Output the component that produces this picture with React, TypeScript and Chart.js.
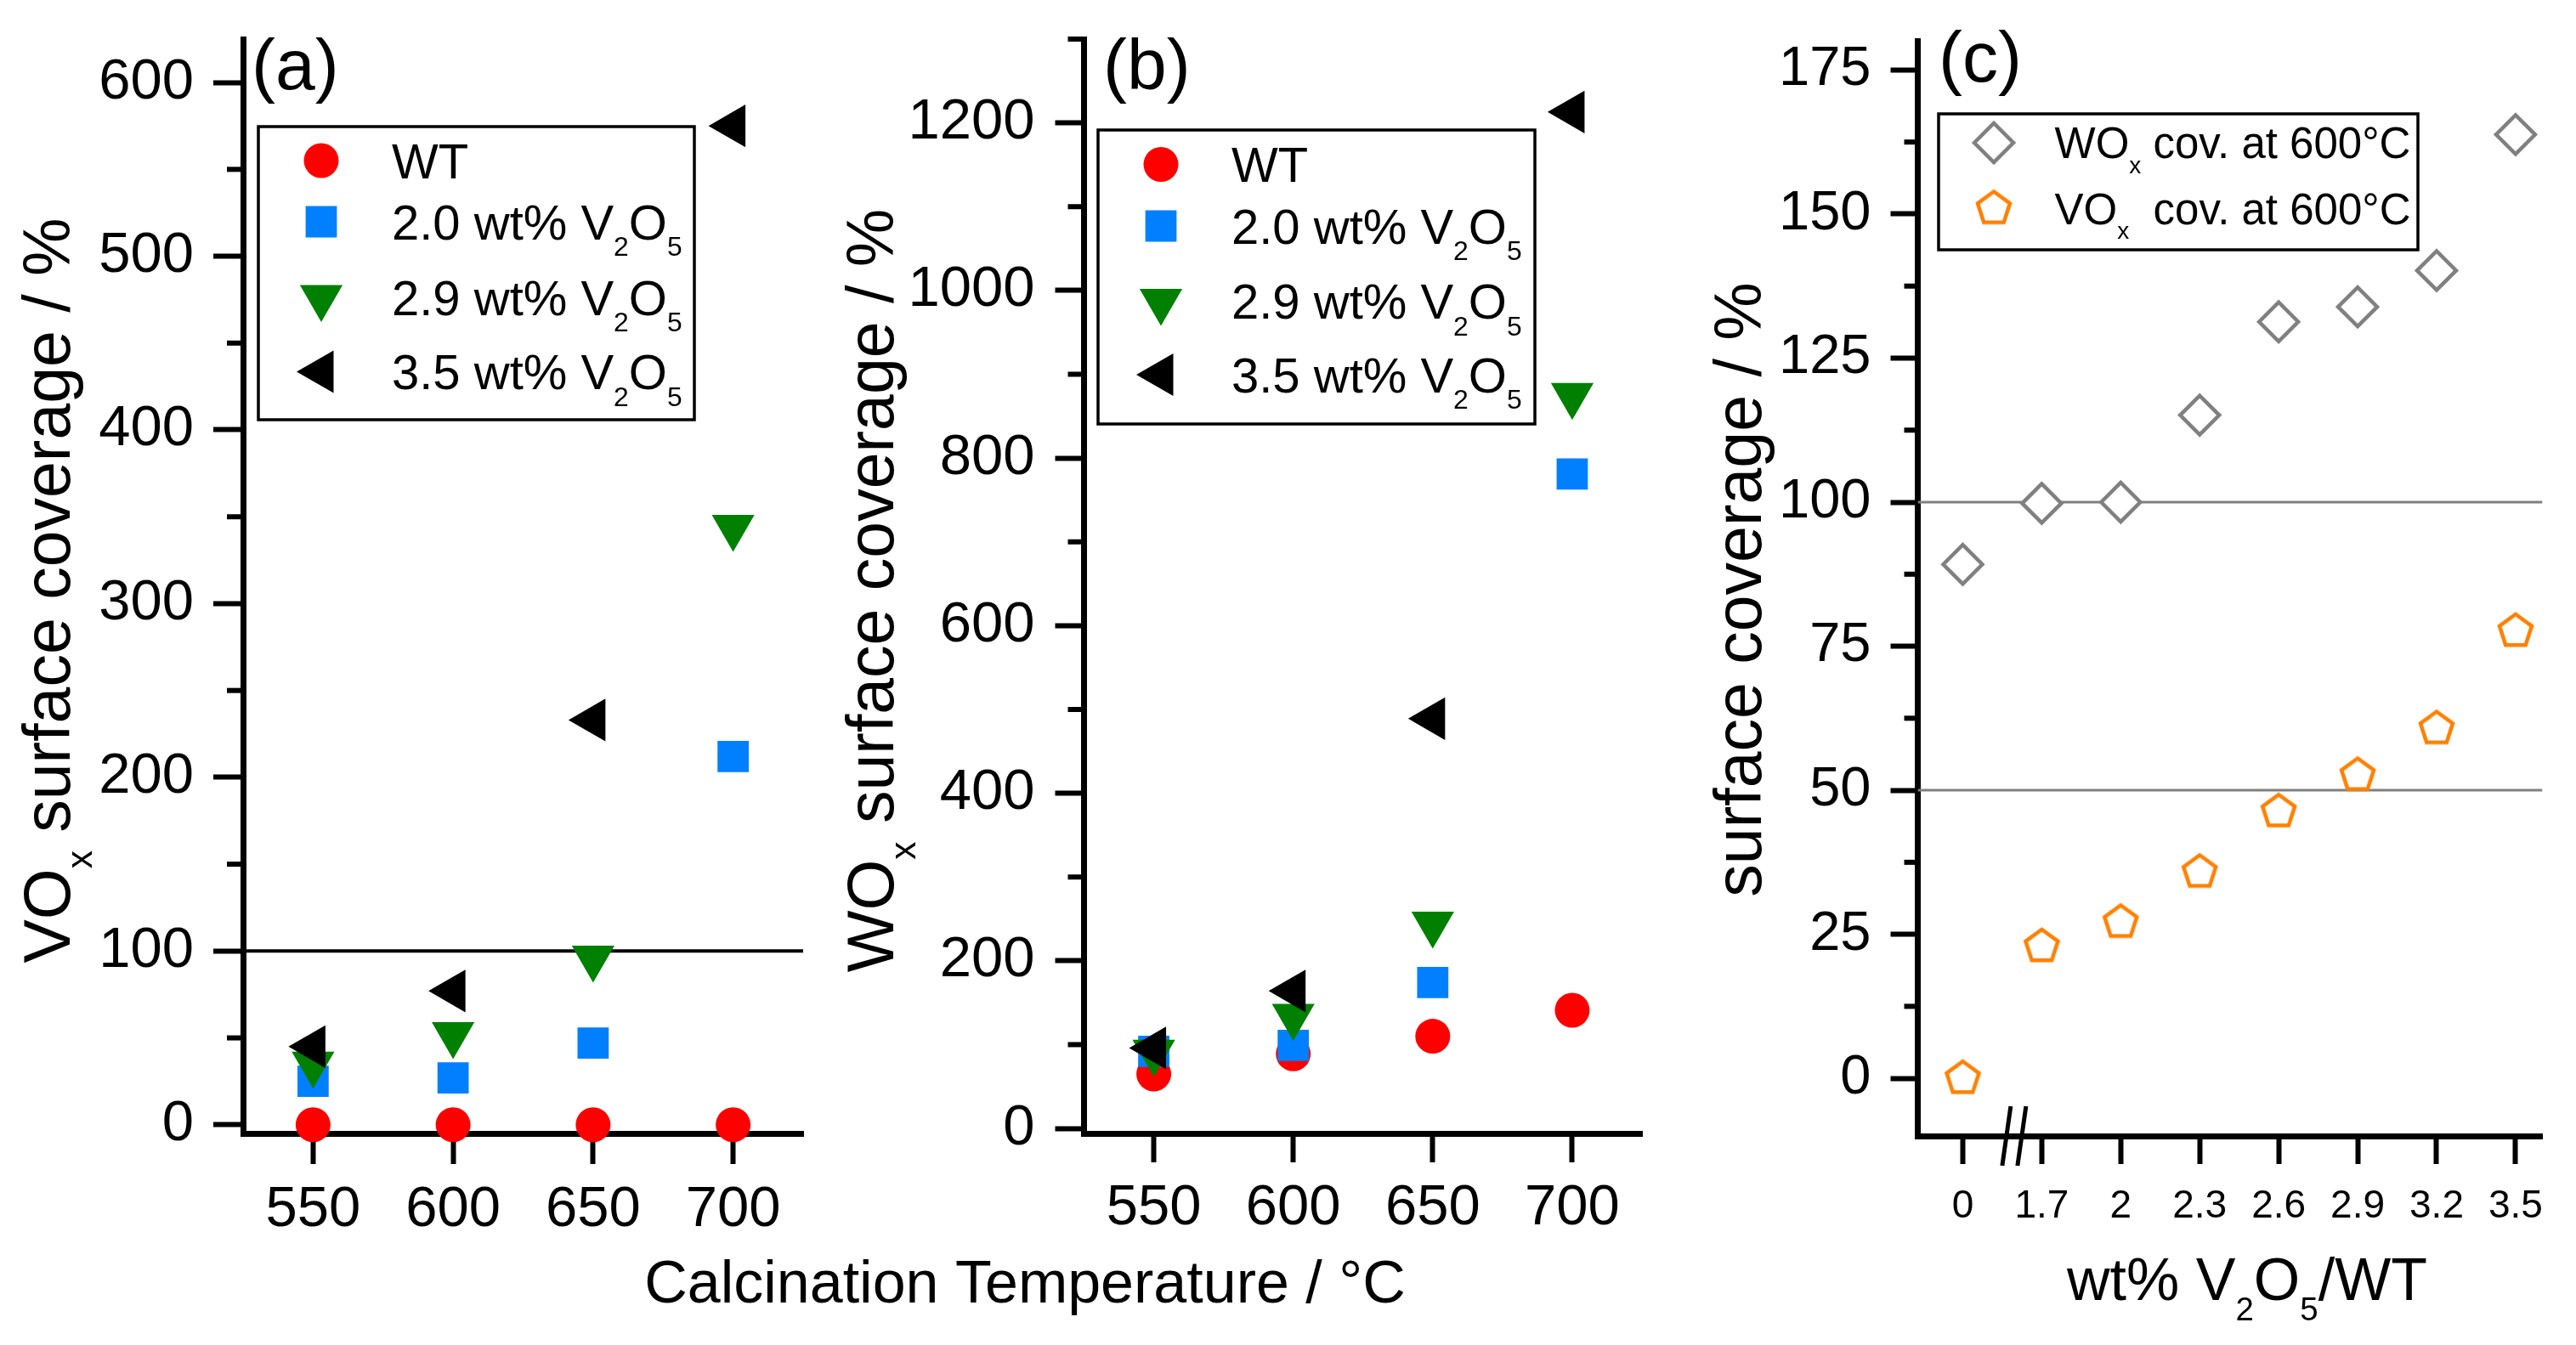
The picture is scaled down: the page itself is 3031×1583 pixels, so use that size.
import React, { useEffect, useRef } from "react";
import { Chart, registerables } from "chart.js";
import type { ChartConfiguration, Plugin } from "chart.js";
import { drawPoint } from "chart.js/helpers";

Chart.register(...registerables);

// ---------------- data ----------------
const calcTemps = [550, 600, 650, 700];

// (a) VOx surface coverage / %
const voxWT = [0, 0, 0, 0];
const vox20 = [25, 27, 47, 212];
const vox29 = [35, 52, 96, 344];
const vox35 = [45, 77, 233, 575];

// (b) WOx surface coverage / %
const woxWT = [65, 89, 110, 141];
const wox20 = [92, 99, 174, 781];
const wox29 = [91, 134, 244, 875];
const wox35 = [96, 164, 489, 1213];

// (c) coverage at 600 °C against V2O5 loading (equally spaced categories)
const loadings = ["0", "1.7", "2", "2.3", "2.6", "2.9", "3.2", "3.5"];
const woxAt600 = [89.2, 99.8, 100, 115.1, 131.3, 133.9, 140.2, 163.8];
const voxAt600 = [0, 22.9, 27.1, 35.8, 46.3, 52.6, 60.7, 77.6];

// ticks
const tempTicks = [550, 600, 650, 700];
const voxTicks = [0, 100, 200, 300, 400, 500, 600];
const voxMinor = [50, 150, 250, 350, 450, 550];
const woxTicks = [0, 200, 400, 600, 800, 1000, 1200];
const woxMinor = [100, 300, 500, 700, 900, 1100, 1300];
const covTicks = [0, 25, 50, 75, 100, 125, 150, 175];
const covMinor = [12.5, 37.5, 62.5, 87.5, 112.5, 137.5, 162.5];

const monolayer = 100;
const halfLayer = 50;

// ---------------- look ----------------
const PAGE_W = 3031;
const PAGE_H = 1583;
const FONT = '"Liberation Sans", Arial, Helvetica, sans-serif';
const Y_BOX = 250;
const X_BOX = 150;
const AXIS_W = 7;
const TICK_W = 6;
const SUB_SCALE = 0.55;
const SUB_DROP = 0.34;
const CAP_MID = 0.358;

const RED = "#FF0000";
const BLUE = "#0080FF";
const GREEN = "#008000";
const BLACK = "#000000";
const GREY = "#808080";
const ORANGE = "#FF8000";

type Seg = { t: string; sub?: boolean };
type Marker = {
  pointStyle: any;
  radius: number;
  rotation: number;
  fill: string;
  stroke: string;
  borderWidth: number;
};
type Area = { left: number; right: number; top: number; bottom: number };

const v2o5 = (w: string): Seg[] => [
  { t: `${w} wt% V` },
  { t: "2", sub: true },
  { t: "O" },
  { t: "5", sub: true },
];

const mWT: Marker = { pointStyle: "circle", radius: 20.5, rotation: 0, fill: RED, stroke: RED, borderWidth: 0 };
const m20: Marker = { pointStyle: "rect", radius: 26, rotation: 0, fill: BLUE, stroke: BLUE, borderWidth: 0 };
const m29: Marker = { pointStyle: "triangle", radius: 29, rotation: 180, fill: GREEN, stroke: GREEN, borderWidth: 0 };
const m35: Marker = { pointStyle: "triangle", radius: 29, rotation: 270, fill: BLACK, stroke: BLACK, borderWidth: 0 };
const mWOx: Marker = { pointStyle: "rectRot", radius: 23, rotation: 0, fill: "#FFFFFF", stroke: GREY, borderWidth: 4.5 };

let pentaCache: HTMLCanvasElement | null = null;
function pentagon(): HTMLCanvasElement {
  if (pentaCache) return pentaCache;
  const R = 20;
  const lw = 4.5;
  const size = Math.ceil(2 * R + 3 * lw + 4);
  const c = document.createElement("canvas");
  c.width = size;
  c.height = size;
  const g = c.getContext("2d")!;
  g.beginPath();
  for (let k = 0; k < 5; k++) {
    const a = -Math.PI / 2 + (k * 2 * Math.PI) / 5;
    const px = size / 2 + R * Math.cos(a);
    const py = size / 2 + R * Math.sin(a);
    if (k === 0) g.moveTo(px, py);
    else g.lineTo(px, py);
  }
  g.closePath();
  g.fillStyle = "#FFFFFF";
  g.fill();
  g.lineWidth = lw;
  g.strokeStyle = ORANGE;
  g.stroke();
  pentaCache = c;
  return c;
}
const mVOx = (): Marker => ({ pointStyle: pentagon(), radius: 22, rotation: 0, fill: ORANGE, stroke: ORANGE, borderWidth: 0 });

// ---------------- helpers ----------------
const fontOf = (size: number) => `${size}px ${FONT}`;

function richWidth(ctx: CanvasRenderingContext2D, segs: Seg[], size: number) {
  let w = 0;
  for (const s of segs) {
    ctx.font = fontOf(s.sub ? size * SUB_SCALE : size);
    w += ctx.measureText(s.t).width;
  }
  return w;
}

function drawRich(
  ctx: CanvasRenderingContext2D,
  segs: Seg[],
  x: number,
  y: number,
  size: number,
  align: "left" | "center",
  vertical = false
) {
  ctx.save();
  ctx.translate(x, y);
  if (vertical) ctx.rotate(-Math.PI / 2);
  ctx.fillStyle = "#000";
  ctx.textAlign = "left";
  ctx.textBaseline = "alphabetic";
  let cx = align === "center" ? -richWidth(ctx, segs, size) / 2 : 0;
  for (const s of segs) {
    ctx.font = fontOf(s.sub ? size * SUB_SCALE : size);
    ctx.fillText(s.t, cx, s.sub ? size * SUB_DROP : 0);
    cx += ctx.measureText(s.t).width;
  }
  ctx.restore();
}

function pointSet(label: string, xs: number[], ys: number[], m: Marker, order: number) {
  return {
    label,
    data: xs.map((x, i) => ({ x, y: ys[i] })),
    showLine: false,
    pointStyle: m.pointStyle,
    pointRadius: m.radius,
    pointHoverRadius: m.radius,
    pointRotation: m.rotation,
    pointBackgroundColor: m.fill,
    pointBorderColor: m.stroke,
    pointBorderWidth: m.borderWidth,
    clip: false,
    order,
  };
}

function levelLine(level: number, xMin: number, xMax: number, color: string, width: number) {
  return {
    label: "level",
    data: [
      { x: xMin, y: level },
      { x: xMax, y: level },
    ],
    showLine: true,
    borderColor: color,
    borderWidth: width,
    pointRadius: 0,
    order: 99,
  };
}

function axis(o: {
  min: number;
  max: number;
  ticks: number[];
  labels?: string[];
  size: number;
  tickLen: number;
  pad: number;
  horizontal: boolean;
}) {
  return {
    type: "linear",
    min: o.min,
    max: o.max,
    afterBuildTicks: (s: any) => {
      s.ticks = o.ticks.map((v) => ({ value: v }));
    },
    afterFit: (s: any) => {
      if (o.horizontal) s.height = X_BOX;
      else s.width = Y_BOX;
    },
    ticks: {
      color: "#000",
      // small line height on the value axis keeps the auto padding from pushing the plot down
      font: { family: FONT, size: o.size, lineHeight: o.horizontal ? 1.2 : 0.2 },
      padding: o.pad,
      autoSkip: false,
      maxRotation: 0,
      minRotation: 0,
      callback: (v: any) => (o.labels ? o.labels[v] ?? "" : String(v)),
    },
    grid: {
      display: true,
      drawOnChartArea: false,
      drawTicks: true,
      tickLength: o.tickLen,
      tickWidth: TICK_W,
      tickColor: "#000",
    },
    border: { display: true, width: AXIS_W, color: "#000" },
  };
}

type LegendSpec = {
  left: number;
  top: number;
  width: number;
  height: number;
  markerX: number;
  textX: number;
  rows: number[];
  size: number;
  items: { label: Seg[]; marker: Marker }[];
};
type TextSpec = { segs: Seg[]; x: number; y: number; size: number; align: "left" | "center"; vertical?: boolean };

function decor(minor: number[], minorLen: number, legend: LegendSpec, texts: TextSpec[], breakAt?: number): Plugin {
  return {
    id: "decor",
    afterDraw(chart) {
      const ctx = chart.ctx;
      const ys: any = chart.scales.y;
      ctx.save();
      ctx.strokeStyle = "#000";
      ctx.lineWidth = TICK_W;
      for (const v of minor) {
        const py = ys.getPixelForValue(v);
        ctx.beginPath();
        ctx.moveTo(chart.chartArea.left - minorLen, py);
        ctx.lineTo(chart.chartArea.left, py);
        ctx.stroke();
      }
      if (breakAt !== undefined) {
        const cx = chart.scales.x.getPixelForValue(breakAt);
        const yb = chart.chartArea.bottom;
        ctx.lineWidth = 5;
        for (const off of [-9, 9]) {
          ctx.beginPath();
          ctx.moveTo(cx + off + 5, yb - 35);
          ctx.lineTo(cx + off - 5, yb + 35);
          ctx.stroke();
        }
      }
      // legend
      const L = legend;
      ctx.fillStyle = "#FFFFFF";
      ctx.fillRect(L.left, L.top, L.width, L.height);
      ctx.lineWidth = 3.5;
      ctx.strokeStyle = "#000";
      ctx.strokeRect(L.left, L.top, L.width, L.height);
      L.items.forEach((it, i) => {
        const cy = L.top + L.rows[i];
        ctx.save();
        ctx.fillStyle = it.marker.fill;
        ctx.strokeStyle = it.marker.stroke;
        ctx.lineWidth = it.marker.borderWidth;
        drawPoint(
          ctx,
          {
            pointStyle: it.marker.pointStyle,
            radius: it.marker.radius,
            rotation: it.marker.rotation,
            borderWidth: it.marker.borderWidth,
          } as any,
          L.left + L.markerX,
          cy
        );
        ctx.restore();
        drawRich(ctx, it.label, L.left + L.textX, cy + CAP_MID * L.size, L.size, "left");
      });
      for (const t of texts) drawRich(ctx, t.segs, t.x, t.y, t.size, t.align, t.vertical);
      ctx.restore();
    },
  };
}

function baseOptions(area: Area) {
  return {
    responsive: false,
    animation: false,
    events: [],
    layout: {
      padding: {
        left: area.left - Y_BOX,
        right: PAGE_W - area.right,
        top: area.top,
        bottom: PAGE_H - area.bottom - X_BOX,
      },
    },
    plugins: { legend: { display: false }, tooltip: { enabled: false } },
  };
}

const tempItems = () => [
  { label: [{ t: "WT" }], marker: mWT },
  { label: v2o5("2.0"), marker: m20 },
  { label: v2o5("2.9"), marker: m29 },
  { label: v2o5("3.5"), marker: m35 },
];

// ---------------- panels ----------------
function makeA(): ChartConfiguration {
  const area = { left: 286, right: 945, top: 46, bottom: 1334 };
  const xMin = 525;
  const xMax = 725;
  return {
    type: "scatter",
    data: {
      datasets: [
        levelLine(monolayer, xMin, xMax, BLACK, 4),
        pointSet("WT", calcTemps, voxWT, mWT, 4),
        pointSet("2.0 wt% V2O5", calcTemps, vox20, m20, 3),
        pointSet("2.9 wt% V2O5", calcTemps, vox29, m29, 2),
        pointSet("3.5 wt% V2O5", calcTemps, vox35, m35, 1),
      ] as any,
    },
    options: {
      ...baseOptions(area),
      scales: {
        x: axis({ min: xMin, max: xMax, ticks: tempTicks, size: 67, tickLen: 36, pad: 14, horizontal: true }),
        y: axis({ min: -5, max: 625, ticks: voxTicks, size: 67, tickLen: 35, pad: 23, horizontal: false }),
      },
    } as any,
    plugins: [
      decor(
        voxMinor,
        19,
        { left: 304, top: 149, width: 513, height: 345, markerX: 74, textX: 157, rows: [40, 112, 201, 288.5], size: 58, items: tempItems() },
        [
          { segs: [{ t: "VO" }, { t: "x", sub: true }, { t: " surface coverage / %" }], x: 82, y: 695, size: 77, align: "center", vertical: true },
          { segs: [{ t: "(a)" }], x: 296, y: 104.5, size: 84, align: "left" },
        ]
      ),
    ],
  };
}

function makeB(): ChartConfiguration {
  const area = { left: 1275.5, right: 1932, top: 46, bottom: 1334 };
  const xMin = 525;
  const xMax = 725;
  return {
    type: "scatter",
    data: {
      datasets: [
        pointSet("WT", calcTemps, woxWT, mWT, 4),
        pointSet("2.0 wt% V2O5", calcTemps, wox20, m20, 3),
        pointSet("2.9 wt% V2O5", calcTemps, wox29, m29, 2),
        pointSet("3.5 wt% V2O5", calcTemps, wox35, m35, 1),
      ] as any,
    },
    options: {
      ...baseOptions(area),
      scales: {
        x: axis({ min: xMin, max: xMax, ticks: tempTicks, size: 67, tickLen: 34, pad: 14, horizontal: true }),
        y: axis({ min: -6, max: 1300, ticks: woxTicks, size: 67, tickLen: 34, pad: 24, horizontal: false }),
      },
    } as any,
    plugins: [
      decor(
        woxMinor,
        19,
        { left: 1292, top: 153, width: 514, height: 346, markerX: 74, textX: 157, rows: [40.5, 113, 201.5, 288], size: 58, items: tempItems() },
        [
          { segs: [{ t: "WO" }, { t: "x", sub: true }, { t: " surface coverage / %" }], x: 1051, y: 695, size: 77, align: "center", vertical: true },
          { segs: [{ t: "(b)" }], x: 1298, y: 104.5, size: 84, align: "left" },
          { segs: [{ t: "Calcination Temperature / °C" }], x: 1206, y: 1533, size: 70, align: "center" },
        ]
      ),
    ],
  };
}

function makeC(): ChartConfiguration {
  const area = { left: 2256.5, right: 2991.5, top: 48.5, bottom: 1337 };
  const xMin = -0.57;
  const xMax = 7.34;
  const idx = loadings.map((_, i) => i);
  const mV = mVOx();
  return {
    type: "scatter",
    data: {
      datasets: [
        levelLine(monolayer, xMin, xMax, GREY, 3),
        levelLine(halfLayer, xMin, xMax, GREY, 3),
        pointSet("WOx cov. at 600°C", idx, woxAt600, mWOx, 2),
        pointSet("VOx cov. at 600°C", idx, voxAt600, mV, 1),
      ] as any,
    },
    options: {
      ...baseOptions(area),
      scales: {
        x: axis({ min: xMin, max: xMax, ticks: idx, labels: loadings, size: 46, tickLen: 33, pad: 23, horizontal: true }),
        y: axis({ min: -10, max: 180, ticks: covTicks, size: 65, tickLen: 32, pad: 23, horizontal: false }),
      },
    } as any,
    plugins: [
      decor(
        covMinor,
        16,
        {
          left: 2281,
          top: 134,
          width: 564,
          height: 160,
          markerX: 65,
          textX: 136.5,
          rows: [34, 111.5],
          size: 51,
          items: [
            { label: [{ t: "WO" }, { t: "x", sub: true }, { t: " cov. at 600°C" }], marker: mWOx },
            { label: [{ t: "VO" }, { t: "x", sub: true }, { t: "  cov. at 600°C" }], marker: mV },
          ],
        },
        [
          { segs: [{ t: "surface coverage / %" }], x: 2072, y: 694, size: 77, align: "center", vertical: true },
          { segs: [{ t: "(c)" }], x: 2281, y: 95.5, size: 84, align: "left" },
          {
            segs: [{ t: "wt% V" }, { t: "2", sub: true }, { t: "O" }, { t: "5", sub: true }, { t: "/WT" }],
            x: 2644,
            y: 1530,
            size: 70,
            align: "center",
          },
        ],
        0.65
      ),
    ],
  };
}

// ---------------- components ----------------
const ChartCanvas: React.FC<{ make: () => ChartConfiguration }> = ({ make }) => {
  const canvasRef = useRef<HTMLCanvasElement | null>(null);

  useEffect(() => {
    if (!canvasRef.current) return;
    const chart = new Chart(canvasRef.current, make());
    return () => chart.destroy();
  }, [make]);

  return (
    <canvas
      ref={canvasRef}
      width={PAGE_W}
      height={PAGE_H}
      style={{ position: "absolute", left: 0, top: 0, width: PAGE_W, height: PAGE_H }}
    />
  );
};

export default function App() {
  return (
    <div
      style={{
        position: "absolute",
        left: 0,
        top: 0,
        width: PAGE_W,
        height: PAGE_H,
        background: "#FFFFFF",
        overflow: "hidden",
      }}
    >
      <ChartCanvas make={makeA} />
      <ChartCanvas make={makeB} />
      <ChartCanvas make={makeC} />
    </div>
  );
}
